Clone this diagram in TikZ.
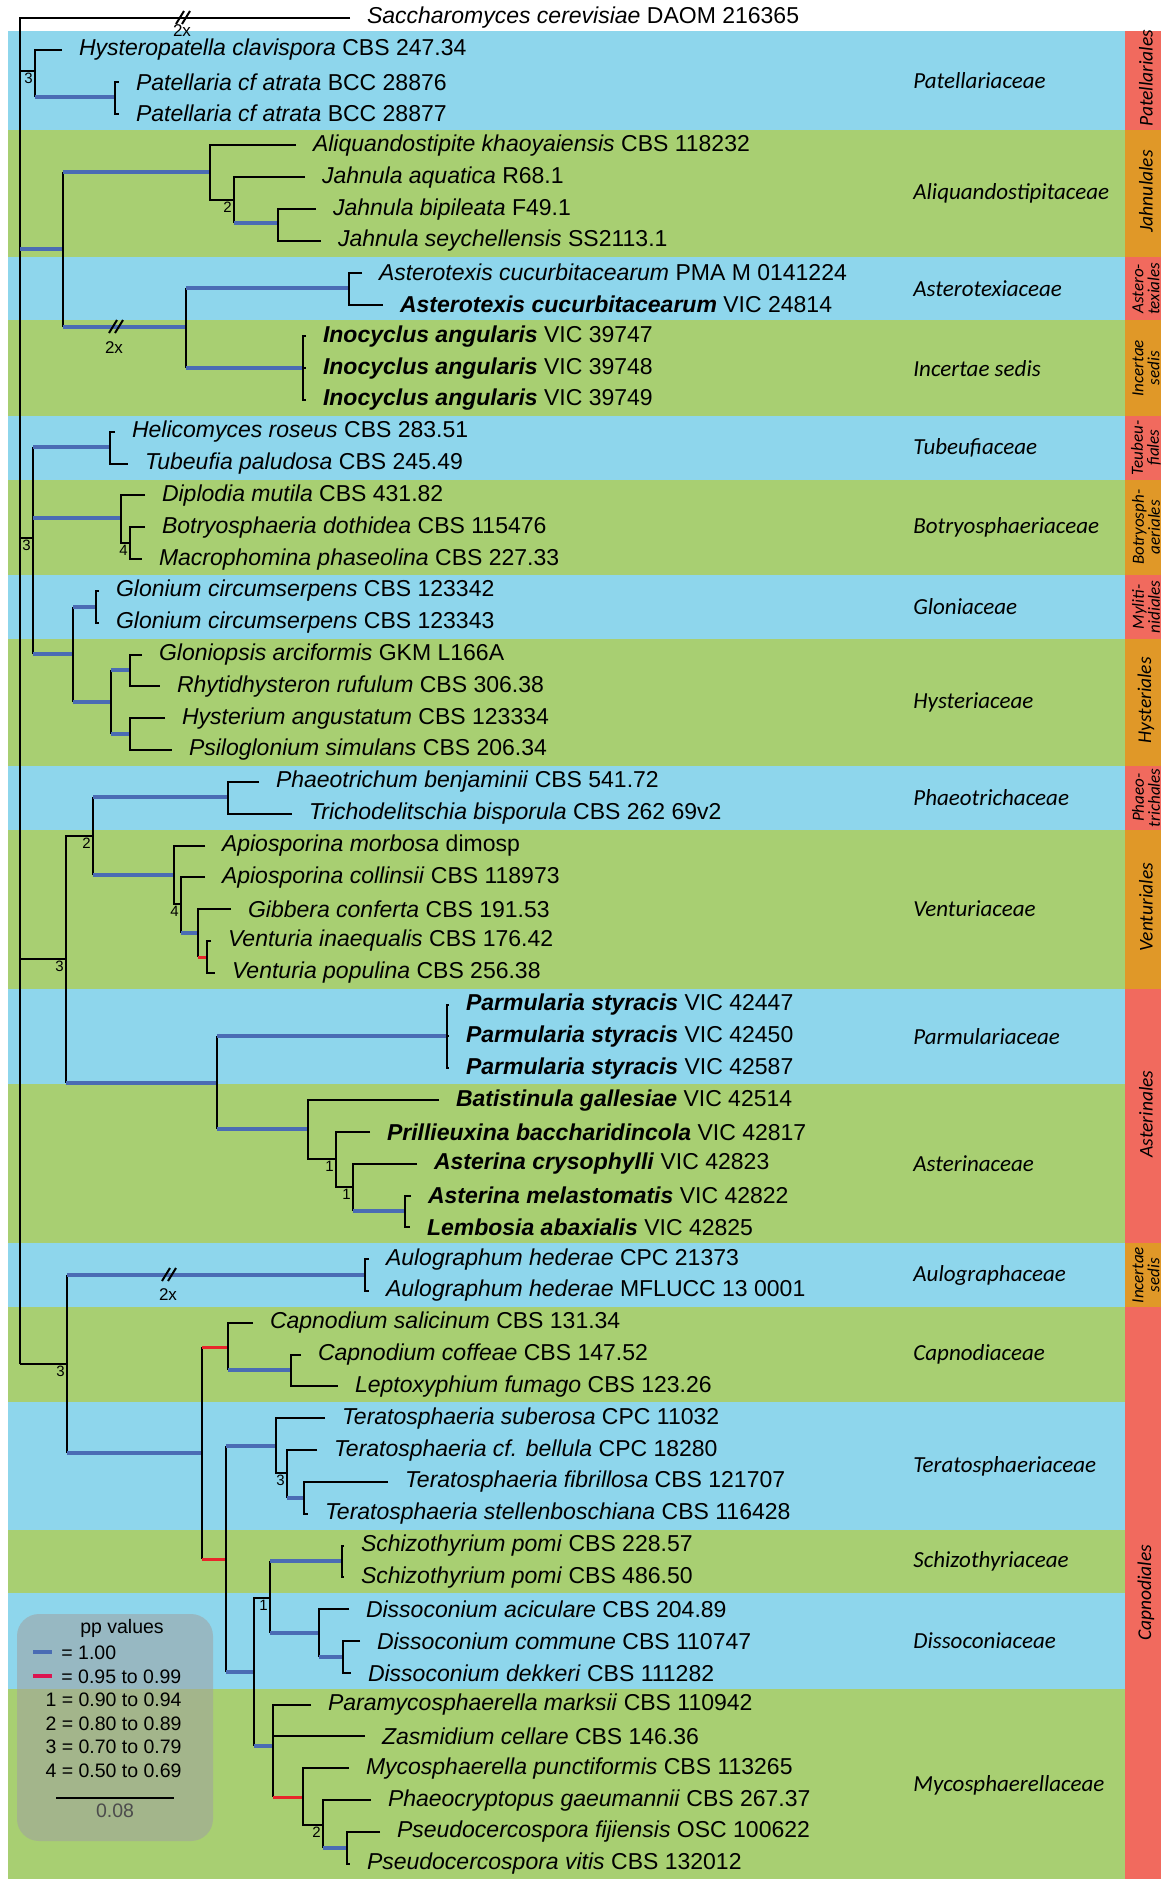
\documentclass[tikz,border=0pt]{standalone}
\usepackage{fontspec}
\setmainfont{Liberation Sans}
\newfontfamily\calfont{Carlito}
\usepackage{tikz}

\definecolor{bandblue}{HTML}{8ED6EC}
\definecolor{bandgreen}{HTML}{A8CF72}
\definecolor{ordred}{HTML}{F16A5E}
\definecolor{ordorange}{HTML}{E09828}
\definecolor{ppblue}{HTML}{4A6CB4}
\definecolor{ppred}{HTML}{E8262A}
\definecolor{legred}{HTML}{DC1450}
\definecolor{leggray}{RGB}{160,160,160}

% row of a tip, in pixels from the top
\newcommand{\ry}[1]{(50+31.82*(#1))}
\newcommand{\tx}[2]{\textit{#1} #2}
\newcommand{\btx}[2]{\textbf{\textit{#1}} #2}

\tikzset{
  br/.style={black,line width=1pt},
  pp1/.style={ppblue,line width=2pt},
  pp2/.style={ppred,line width=1.5pt},
  tip/.style={anchor=west,inner xsep=8.5pt,inner ysep=0pt,outer sep=0pt,font=\fontsize{11.5}{13}\selectfont},
  supp/.style={anchor=north east,inner sep=1pt,font=\fontsize{7.5}{8}\selectfont},
  brklab/.style={inner sep=0pt,font=\fontsize{8.5}{9}\selectfont},
  famlab/.style={anchor=west,inner sep=0pt,font={\calfont\fontsize{11.5}{13}\selectfont\itshape}},
  ordone/.style={rotate=90,inner sep=0pt,xshift=1pt,font={\calfont\fontsize{9.75}{11}\selectfont\itshape}},
  ordtwo/.style={rotate=90,inner sep=0pt,align=center,font={\calfont\fontsize{8.5}{8}\selectfont\itshape}},
  legtxt/.style={inner sep=0pt,font=\fontsize{9.75}{11}\selectfont},
}

\begin{document}
\begin{tikzpicture}[x=0.5pt,y=-0.5pt]
  \useasboundingbox (0,0) rectangle (1161,1879);
  \fill[white] (0,0) rectangle (1161,1879);

  % family bands
  \foreach \a/\b/\c/\f [count=\i] in {-0.6/2.5/bandblue/Patellariaceae,
      2.5/6.5/bandgreen/Aliquandostipitaceae, 6.5/8.5/bandblue/Asterotexiaceae,
      8.5/11.5/bandgreen/Incertae sedis, 11.5/13.5/bandblue/Tubeufiaceae,
      13.5/16.5/bandgreen/Botryosphaeriaceae, 16.5/18.5/bandblue/Gloniaceae,
      18.5/22.5/bandgreen/Hysteriaceae, 22.5/24.5/bandblue/Phaeotrichaceae,
      24.5/29.5/bandgreen/Venturiaceae, 29.5/32.5/bandblue/Parmulariaceae,
      32.5/37.5/bandgreen/Asterinaceae, 37.5/39.5/bandblue/Aulographaceae,
      39.5/42.5/bandgreen/Capnodiaceae, 42.5/46.5/bandblue/Teratosphaeriaceae,
      46.5/48.5/bandgreen/Schizothyriaceae, 48.5/51.5/bandblue/Dissoconiaceae,
      51.5/57.6/bandgreen/Mycosphaerellaceae}{
    \fill[\c] (8,{\ry{\a}}) rectangle (1125,{\ry{\b}});
    \node[famlab] (fam\i) at (913,{\ry{(\a+\b)/2}}) {\f};
  }

  % order strip
  \begin{scope}
    \clip (1125,0) rectangle (1161,1879);
    \foreach \a/\b/\c/\s/\o [count=\i] in {-0.6/2.5/ordred/ordone/Patellariales,
        2.5/6.5/ordorange/ordone/Jahnulales, 6.5/8.5/ordred/ordtwo/Astero-\\texiales,
        8.5/11.5/ordorange/ordtwo/Incertae\\sedis, 11.5/13.5/ordred/ordtwo/Teubeu-\\fiales,
        13.5/16.5/ordorange/ordtwo/Botryosph-\\aeriales, 16.5/18.5/ordred/ordtwo/Myliti-\\nidiales,
        18.5/22.5/ordorange/ordone/Hysteriales, 22.5/24.5/ordred/ordtwo/Phaeo-\\trichales,
        24.5/29.5/ordorange/ordone/Venturiales, 29.5/37.5/ordred/ordone/Asterinales,
        37.5/39.5/ordorange/ordtwo/Incertae\\sedis, 39.5/57.6/ordred/ordone/Capnodiales}{
      \fill[\c] (1125,{\ry{\a}}) rectangle (1161,{\ry{\b}});
      \node[\s] (ord\i) at (1146,{\ry{(\a+\b)/2}}) {\o};
    }
  \end{scope}

  % internal nodes
  \coordinate (R) at (20,18);
  \coordinate (P1) at (35,71);
  \coordinate (P2) at (115,97);
  \coordinate (J0) at (63,249);
  \coordinate (J1) at (210,172);
  \coordinate (J2) at (234,200);
  \coordinate (J3) at (278,223);
  \coordinate (J5) at (186,327);
  \coordinate (J6) at (349,288);
  \coordinate (J7) at (303,368);
  \coordinate (C0) at (33,538);
  \coordinate (C1) at (110,447);
  \coordinate (C2) at (121,518);
  \coordinate (C2b) at (130,543);
  \coordinate (C3) at (73,654);
  \coordinate (C4) at (96,607);
  \coordinate (C5) at (111,702);
  \coordinate (C6) at (130,670);
  \coordinate (C7) at (130,734);
  \coordinate (D0) at (66,959);
  \coordinate (D1) at (93,836);
  \coordinate (D2) at (228,797);
  \coordinate (D3) at (174,875);
  \coordinate (D3b) at (181,904);
  \coordinate (D3c) at (198,933);
  \coordinate (D3d) at (207,957);
  \coordinate (D5) at (217,1083);
  \coordinate (D6) at (447,1036);
  \coordinate (D7) at (308,1129);
  \coordinate (D7b) at (336,1159);
  \coordinate (D7c) at (353,1187);
  \coordinate (D7d) at (405,1211);
  \coordinate (E0) at (67,1364);
  \coordinate (E1) at (365,1275);
  \coordinate (E2) at (202,1453);
  \coordinate (E3) at (228,1347);
  \coordinate (E3b) at (291,1370);
  \coordinate (E4) at (226,1559);
  \coordinate (E5) at (276,1446);
  \coordinate (E5b) at (287,1473);
  \coordinate (E5c) at (304,1498);
  \coordinate (E6) at (254,1672);
  \coordinate (E7) at (270,1598);
  \coordinate (E7a) at (342,1561);
  \coordinate (E8) at (319,1633);
  \coordinate (E8b) at (343,1657);
  \coordinate (E9) at (273,1746);
  \coordinate (E10) at (303,1797);
  \coordinate (E10b) at (323,1825);
  \coordinate (E10c) at (347,1848);

  % tips
  \node[tip] (s) at (350,18) {\tx{Saccharomyces cerevisiae}{DAOM 216365}};
  \node[tip] (t0) at (62,{\ry{0}}) {\tx{Hysteropatella clavispora}{CBS 247.34}};
  \node[tip] (t1) at (119,{\ry{1}}) {\tx{Patellaria cf atrata}{BCC 28876}};
  \node[tip] (t2) at (119,{\ry{2}}) {\tx{Patellaria cf atrata}{BCC 28877}};
  \node[tip] (t3) at (296,{\ry{3}}) {\tx{Aliquandostipite khaoyaiensis}{CBS 118232}};
  \node[tip] (t4) at (305,{\ry{4}}) {\tx{Jahnula aquatica}{R68.1}};
  \node[tip] (t5) at (316,{\ry{5}}) {\tx{Jahnula bipileata}{F49.1}};
  \node[tip] (t6) at (321,{\ry{6}}) {\tx{Jahnula seychellensis}{SS2113.1}};
  \node[tip] (t7) at (362,{\ry{7}}) {\tx{Asterotexis cucurbitacearum}{PMA M 0141224}};
  \node[tip] (t8) at (383,{\ry{8}}) {\btx{Asterotexis cucurbitacearum}{VIC 24814}};
  \node[tip] (t9) at (306,{\ry{9}}) {\btx{Inocyclus angularis}{VIC 39747}};
  \node[tip] (t10) at (306,{\ry{10}}) {\btx{Inocyclus angularis}{VIC 39748}};
  \node[tip] (t11) at (306,{\ry{11}}) {\btx{Inocyclus angularis}{VIC 39749}};
  \node[tip] (t12) at (115,{\ry{12}}) {\tx{Helicomyces roseus}{CBS 283.51}};
  \node[tip] (t13) at (128,{\ry{13}}) {\tx{Tubeufia paludosa}{CBS 245.49}};
  \node[tip] (t14) at (145,{\ry{14}}) {\tx{Diplodia mutila}{CBS 431.82}};
  \node[tip] (t15) at (145,{\ry{15}}) {\tx{Botryosphaeria dothidea}{CBS 115476}};
  \node[tip] (t16) at (142,{\ry{16}}) {\tx{Macrophomina phaseolina}{CBS 227.33}};
  \node[tip] (t17) at (99,{\ry{17}}) {\tx{Glonium circumserpens}{CBS 123342}};
  \node[tip] (t18) at (99,{\ry{18}}) {\tx{Glonium circumserpens}{CBS 123343}};
  \node[tip] (t19) at (142,{\ry{19}}) {\tx{Gloniopsis arciformis}{GKM L166A}};
  \node[tip] (t20) at (160,{\ry{20}}) {\tx{Rhytidhysteron rufulum}{CBS 306.38}};
  \node[tip] (t21) at (165,{\ry{21}}) {\tx{Hysterium angustatum}{CBS 123334}};
  \node[tip] (t22) at (172,{\ry{22}}) {\tx{Psiloglonium simulans}{CBS 206.34}};
  \node[tip] (t23) at (259,{\ry{23}}) {\tx{Phaeotrichum benjaminii}{CBS 541.72}};
  \node[tip] (t24) at (292,{\ry{24}}) {\tx{Trichodelitschia bisporula}{CBS 262 69v2}};
  \node[tip] (t25) at (205,{\ry{25}}) {\tx{Apiosporina morbosa}{dimosp}};
  \node[tip] (t26) at (205,{\ry{26}}) {\tx{Apiosporina collinsii}{CBS 118973}};
  \node[tip] (t27) at (231,{\ry{27}}) {\tx{Gibbera conferta}{CBS 191.53}};
  \node[tip] (t28) at (211,{\ry{28}}) {\tx{Venturia inaequalis}{CBS 176.42}};
  \node[tip] (t29) at (215,{\ry{29}}) {\tx{Venturia populina}{CBS 256.38}};
  \node[tip] (t30) at (449,{\ry{30}}) {\btx{Parmularia styracis}{VIC 42447}};
  \node[tip] (t31) at (449,{\ry{31}}) {\btx{Parmularia styracis}{VIC 42450}};
  \node[tip] (t32) at (449,{\ry{32}}) {\btx{Parmularia styracis}{VIC 42587}};
  \node[tip] (t33) at (439,{\ry{33}}) {\btx{Batistinula gallesiae}{VIC 42514}};
  \node[tip] (t34) at (370,{\ry{34}}) {\btx{Prillieuxina baccharidincola}{VIC 42817}};
  \node[tip] (t35) at (417,{\ry{35}}) {\btx{Asterina crysophylli}{VIC 42823}};
  \node[tip] (t36) at (411,{\ry{36}}) {\btx{Asterina melastomatis}{VIC 42822}};
  \node[tip] (t37) at (410,{\ry{37}}) {\btx{Lembosia abaxialis}{VIC 42825}};
  \node[tip] (t38) at (369,{\ry{38}}) {\tx{Aulographum hederae}{CPC 21373}};
  \node[tip] (t39) at (369,{\ry{39}}) {\tx{Aulographum hederae}{MFLUCC 13 0001}};
  \node[tip] (t40) at (253,{\ry{40}}) {\tx{Capnodium salicinum}{CBS 131.34}};
  \node[tip] (t41) at (301,{\ry{41}}) {\tx{Capnodium coffeae}{CBS 147.52}};
  \node[tip] (t42) at (338,{\ry{42}}) {\tx{Leptoxyphium fumago}{CBS 123.26}};
  \node[tip] (t43) at (325,{\ry{43}}) {\tx{Teratosphaeria suberosa}{CPC 11032}};
  \node[tip] (t44) at (317,{\ry{44}}) {\tx{Teratosphaeria cf. bellula}{CPC 18280}};
  \node[tip] (t45) at (388,{\ry{45}}) {\tx{Teratosphaeria fibrillosa}{CBS 121707}};
  \node[tip] (t46) at (308,{\ry{46}}) {\tx{Teratosphaeria stellenboschiana}{CBS 116428}};
  \node[tip] (t47) at (344,{\ry{47}}) {\tx{Schizothyrium pomi}{CBS 228.57}};
  \node[tip] (t48) at (344,{\ry{48}}) {\tx{Schizothyrium pomi}{CBS 486.50}};
  \node[tip] (t49) at (349,{\ry{49}}) {\tx{Dissoconium aciculare}{CBS 204.89}};
  \node[tip] (t50) at (360,{\ry{50}}) {\tx{Dissoconium commune}{CBS 110747}};
  \node[tip] (t51) at (351,{\ry{51}}) {\tx{Dissoconium dekkeri}{CBS 111282}};
  \node[tip] (t52) at (311,{\ry{52}}) {\tx{Paramycosphaerella marksii}{CBS 110942}};
  \node[tip] (t53) at (365,{\ry{53}}) {\tx{Zasmidium cellare}{CBS 146.36}};
  \node[tip] (t54) at (349,{\ry{54}}) {\tx{Mycosphaerella punctiformis}{CBS 113265}};
  \node[tip] (t55) at (371,{\ry{55}}) {\tx{Phaeocryptopus gaeumannii}{CBS 267.37}};
  \node[tip] (t56) at (380,{\ry{56}}) {\tx{Pseudocercospora fijiensis}{OSC 100622}};
  \node[tip] (t57) at (350,{\ry{57}}) {\tx{Pseudocercospora vitis}{CBS 132012}};

  % root
  \draw[br] (s.west) -| (R |- E0);
  \draw[br] (R |- P1) -- (P1);
  \draw[pp1] (R |- J0) -- (J0);
  \draw[br] (R |- C0) -- (C0);
  \draw[br] (R |- D0) -- (D0);
  \draw[br] (R |- E0) -- (E0);

  % Patellariales
  \draw[br] (t0.west) -| (P1 |- P2);
  \draw[pp1] (P1 |- P2) -- (P2);
  \draw[br] (t1.west) -| (P2 |- t2) -- (t2.west);

  % Jahnulales, Asterotexiales
  \draw[br] (J0 |- J1) -- (J0 |- J5);
  \draw[pp1] (J0 |- J1) -- (J1);
  \draw[pp1] (J0 |- J5) -- (J5);
  \draw[br] (t3.west) -| (J1 |- J2) -- (J2);
  \draw[br] (t4.west) -| (J2 |- J3);
  \draw[pp1] (J2 |- J3) -- (J3);
  \draw[br] (t5.west) -| (J3 |- t6) -- (t6.west);
  \draw[br] (J5 |- J6) -- (J5 |- J7);
  \draw[pp1] (J5 |- J6) -- (J6);
  \draw[pp1] (J5 |- J7) -- (J7);
  \draw[br] (t7.west) -| (J6 |- t8) -- (t8.west);
  \draw[br] (t9.west) -| (J7 |- t11) -- (t11.west);
  \draw[br] (J7 |- t10) -- (t10.west);

  % Tubeufiales to Hysteriales
  \draw[br] (C0 |- C1) -- (C0 |- C3);
  \draw[pp1] (C0 |- C1) -- (C1);
  \draw[pp1] (C0 |- C2) -- (C2);
  \draw[pp1] (C0 |- C3) -- (C3);
  \draw[br] (t12.west) -| (C1 |- t13) -- (t13.west);
  \draw[br] (t14.west) -| (C2 |- C2b) -- (C2b);
  \draw[br] (t15.west) -| (C2b |- t16) -- (t16.west);
  \draw[br] (C3 |- C4) -- (C3 |- C5);
  \draw[pp1] (C3 |- C4) -- (C4);
  \draw[pp1] (C3 |- C5) -- (C5);
  \draw[br] (t17.west) -| (C4 |- t18) -- (t18.west);
  \draw[br] (C5 |- C6) -- (C5 |- C7);
  \draw[pp1] (C5 |- C6) -- (C6);
  \draw[pp1] (C5 |- C7) -- (C7);
  \draw[br] (t19.west) -| (C6 |- t20) -- (t20.west);
  \draw[br] (t21.west) -| (C7 |- t22) -- (t22.west);

  % Phaeotrichales, Venturiales, Asterinales
  \draw[br] (D1) -| (D0 |- D5);
  \draw[pp1] (D0 |- D5) -- (D5);
  \draw[br] (D1 |- D2) -- (D1 |- D3);
  \draw[pp1] (D1 |- D2) -- (D2);
  \draw[pp1] (D1 |- D3) -- (D3);
  \draw[br] (t23.west) -| (D2 |- t24) -- (t24.west);
  \draw[br] (t25.west) -| (D3 |- D3b) -- (D3b);
  \draw[br] (t26.west) -| (D3b |- D3c);
  \draw[pp1] (D3b |- D3c) -- (D3c);
  \draw[br] (t27.west) -| (D3c |- D3d);
  \draw[pp2] (D3c |- D3d) -- (D3d);
  \draw[br] (t28.west) -| (D3d |- t29) -- (t29.west);
  \draw[br] (D5 |- D6) -- (D5 |- D7);
  \draw[pp1] (D5 |- D6) -- (D6);
  \draw[pp1] (D5 |- D7) -- (D7);
  \draw[br] (t30.west) -| (D6 |- t32) -- (t32.west);
  \draw[br] (D6 |- t31) -- (t31.west);
  \draw[br] (t33.west) -| (D7 |- D7b) -- (D7b);
  \draw[br] (t34.west) -| (D7b |- D7c) -- (D7c);
  \draw[br] (t35.west) -| (D7c |- D7d);
  \draw[pp1] (D7c |- D7d) -- (D7d);
  \draw[br] (t36.west) -| (D7d |- t37) -- (t37.west);

  % Aulographaceae, Capnodiales
  \draw[br] (E0 |- E1) -- (E0 |- E2);
  \draw[pp1] (E0 |- E1) -- (E1);
  \draw[pp1] (E0 |- E2) -- (E2);
  \draw[br] (t38.west) -| (E1 |- t39) -- (t39.west);
  \draw[br] (E2 |- E3) -- (E2 |- E4);
  \draw[pp2] (E2 |- E3) -- (E3);
  \draw[pp2] (E2 |- E4) -- (E4);
  \draw[br] (t40.west) -| (E3 |- E3b);
  \draw[pp1] (E3 |- E3b) -- (E3b);
  \draw[br] (t41.west) -| (E3b |- t42) -- (t42.west);
  \draw[br] (E4 |- E5) -- (E4 |- E6);
  \draw[pp1] (E4 |- E5) -- (E5);
  \draw[pp1] (E4 |- E6) -- (E6);
  \draw[br] (t43.west) -| (E5 |- E5b) -- (E5b);
  \draw[br] (t44.west) -| (E5b |- E5c);
  \draw[pp1] (E5b |- E5c) -- (E5c);
  \draw[br] (t45.west) -| (E5c |- t46) -- (t46.west);
  \draw[br] (E7) -| (E6 |- E9);
  \draw[pp1] (E6 |- E9) -- (E9);
  \draw[br] (E7 |- E7a) -- (E7 |- E8);
  \draw[pp1] (E7 |- E7a) -- (E7a);
  \draw[pp1] (E7 |- E8) -- (E8);
  \draw[br] (t47.west) -| (E7a |- t48) -- (t48.west);
  \draw[br] (t49.west) -| (E8 |- E8b);
  \draw[pp1] (E8 |- E8b) -- (E8b);
  \draw[br] (t50.west) -| (E8b |- t51) -- (t51.west);
  \draw[br] (t52.west) -| (E9 |- E10);
  \draw[br] (E9 |- t53) -- (t53.west);
  \draw[pp2] (E9 |- E10) -- (E10);
  \draw[br] (t54.west) -| (E10 |- E10b) -- (E10b);
  \draw[br] (t55.west) -| (E10b |- E10c);
  \draw[pp1] (E10b |- E10c) -- (E10c);
  \draw[br] (t56.west) -| (E10c |- t57) -- (t57.west);

  % support values
  \node[supp] (sp1) at (P1) {3};
  \node[supp] (sp2) at (C0) {3};
  \node[supp] (sp3) at (D0) {3};
  \node[supp] (sp4) at (E0) {3};
  \node[supp] (sp5) at (J2) {2};
  \node[supp] (sp6) at (C2b) {4};
  \node[supp] (sp7) at (D1) {2};
  \node[supp] (sp8) at (D3b) {4};
  \node[supp] (sp9) at (D7b) {1};
  \node[supp] (sp10) at (D7c) {1};
  \node[supp] (sp11) at (E5b) {3};
  \node[supp] (sp12) at (E7) {1};
  \node[supp] (sp13) at (E10b) {2};

  % shortened branches
  \coordinate (k1) at (184,18);
  \coordinate (k2) at (117,327);
  \coordinate (k3) at (170,1275);
  \foreach \k in {k1,k2,k3}
    \draw[br] ([shift={(-8,6)}]\k) -- ([shift={(0,-7)}]\k)
              ([shift={(-2,6)}]\k) -- ([shift={(6,-7)}]\k);
  \node[brklab] (x1) at (182,31) {2x};
  \node[brklab] (x2) at (114,348) {2x};
  \node[brklab] (x3) at (168,1295) {2x};

  % legend
  \fill[leggray,fill opacity=0.55,rounded corners=11pt] (17,1614) rectangle (213,1841);
  \node[legtxt] (lg0) at (122,1628) {pp values};
  \draw[pp1] (33,1652) -- (52,1652);
  \draw[legred,line width=2pt] (33,1676) -- (52,1676);
  \node[legtxt,anchor=west] (lg1) at (61,1653) {= 1.00};
  \node[legtxt,anchor=west] (lg2) at (61,1677) {= 0.95 to 0.99};
  \node[legtxt,anchor=east] (lg3) at (182,1700) {1 = 0.90 to 0.94};
  \node[legtxt,anchor=east] (lg4) at (182,1724) {2 = 0.80 to 0.89};
  \node[legtxt,anchor=east] (lg5) at (182,1747) {3 = 0.70 to 0.79};
  \node[legtxt,anchor=east] (lg6) at (182,1771) {4 = 0.50 to 0.69};
  \draw[br] (56,1798) -- (174,1798);
  \node[legtxt,text=black!70] (lg7) at (115,1811) {0.08};
\end{tikzpicture}
\end{document}
